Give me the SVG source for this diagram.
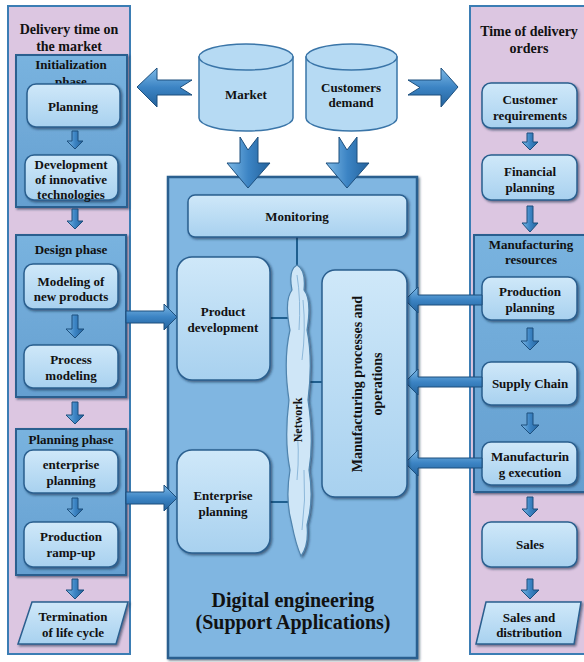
<svg xmlns="http://www.w3.org/2000/svg" width="584" height="662" viewBox="0 0 584 662">
<defs>
<filter id="sh" x="-10%" y="-10%" width="130%" height="130%"><feDropShadow dx="1.5" dy="1.5" stdDeviation="1.2" flood-color="#0a2540" flood-opacity="0.6"/></filter>
<linearGradient id="gBox" x1="0" y1="0" x2="0" y2="1"><stop offset="0" stop-color="#cfe8f9"/><stop offset="1" stop-color="#a8d1ef"/></linearGradient>
<linearGradient id="gPhase" x1="0" y1="0" x2="0" y2="1"><stop offset="0" stop-color="#79b3df"/><stop offset="1" stop-color="#659fd0"/></linearGradient>
<linearGradient id="gArrH" x1="0" y1="0" x2="0" y2="1"><stop offset="0" stop-color="#7db9e6"/><stop offset="0.5" stop-color="#3c84c4"/><stop offset="1" stop-color="#23629c"/></linearGradient>
<linearGradient id="gArrV" x1="0" y1="0" x2="1" y2="0"><stop offset="0" stop-color="#7db9e6"/><stop offset="0.5" stop-color="#3c84c4"/><stop offset="1" stop-color="#23629c"/></linearGradient>
<style>
.pink{fill:#dcc6e1;stroke:#3b7db4;stroke-width:2}
.phase{fill:url(#gPhase);stroke:#2a5f8f;stroke-width:2;filter:url(#sh)}
.main{fill:#80b6e1;stroke:#2a5f8f;stroke-width:2.5;filter:url(#sh)}
.box{fill:url(#gBox);stroke:#2a5f8f;stroke-width:1.5;filter:url(#sh)}
.cyl{fill:#b6daf3;stroke:#3a75a8;stroke-width:1.5}
.arrH{fill:url(#gArrH);stroke:#1d4f7d;stroke-width:1}
.arrV{fill:url(#gArrV);stroke:#1d4f7d;stroke-width:1}
.conn{stroke:#1f5f8f;stroke-width:2;fill:none}
.t{font-family:"Liberation Serif","Times New Roman",serif;font-weight:bold;font-size:13px;fill:#111;text-anchor:middle}
.h{font-size:14px}
.big{font-size:20px}
</style>
</defs>

<!-- Left column -->
<g id="left-panel">
<rect class="pink" x="8" y="6" width="122" height="648"/>
<text class="t h" x="69" y="34">Delivery time on</text>
<text class="t h" x="69" y="51">the market</text>
</g>
<g id="init-phase">
<rect class="phase" x="16" y="55" width="111" height="152"/>
<text class="t" x="71" y="69">Initialization</text>
<text class="t" x="71" y="86">phase</text>
</g>
<g id="planning">
<rect class="box" x="27" y="84" width="93" height="43" rx="9"/>
<text class="t" x="73" y="111">Planning</text>
</g>
<g id="development">
<rect class="box" x="25" y="155" width="93" height="45" rx="9"/>
<text class="t" x="71" y="169">Development</text>
<text class="t" x="71" y="184">of innovative</text>
<text class="t" x="71" y="199">technologies</text>
</g>
<g id="design-phase">
<rect class="phase" x="16" y="235" width="110" height="162"/>
<text class="t" x="71" y="254">Design phase</text>
</g>
<g id="modeling">
<rect class="box" x="24" y="264" width="94" height="45" rx="9"/>
<text class="t" x="71" y="286">Modeling of</text>
<text class="t" x="71" y="301">new products</text>
</g>
<g id="process-modeling">
<rect class="box" x="24" y="345" width="94" height="43" rx="9"/>
<text class="t" x="71" y="364">Process</text>
<text class="t" x="71" y="380">modeling</text>
</g>
<g id="planning-phase">
<rect class="phase" x="16" y="429" width="110" height="146"/>
<text class="t" x="71" y="444">Planning phase</text>
</g>
<g id="enterprise-planning-left">
<rect class="box" x="24" y="450" width="94" height="43" rx="9"/>
<text class="t" x="71" y="469">enterprise</text>
<text class="t" x="71" y="485">planning</text>
</g>
<g id="ramp-up">
<rect class="box" x="24" y="522" width="94" height="45" rx="9"/>
<text class="t" x="71" y="541">Production</text>
<text class="t" x="71" y="557">ramp-up</text>
</g>
<g id="termination">
<polygon class="box" points="32,602 128,602 116,644 18,644"/>
<text class="t" x="73" y="621">Termination</text>
<text class="t" x="73" y="637">of life cycle</text>
</g>

<!-- Right column -->
<g id="right-panel">
<rect class="pink" x="470" y="6" width="120" height="648"/>
<text class="t h" x="529" y="36">Time of delivery</text>
<text class="t h" x="529" y="53">orders</text>
</g>
<g id="customer-requirements">
<rect class="box" x="482" y="83" width="95" height="45" rx="9"/>
<text class="t" x="530" y="104">Customer</text>
<text class="t" x="530" y="120">requirements</text>
</g>
<g id="financial-planning">
<rect class="box" x="482" y="155" width="95" height="45" rx="9"/>
<text class="t" x="530" y="176">Financial</text>
<text class="t" x="530" y="192">planning</text>
</g>
<g id="manufacturing-resources">
<rect class="phase" x="474" y="235" width="116" height="257"/>
<text class="t" x="531" y="249">Manufacturing</text>
<text class="t" x="531" y="264">resources</text>
</g>
<g id="production-planning">
<rect class="box" x="482" y="277" width="95" height="43" rx="9"/>
<text class="t" x="530" y="296">Production</text>
<text class="t" x="530" y="312">planning</text>
</g>
<g id="supply-chain">
<rect class="box" x="482" y="362" width="95" height="43" rx="9"/>
<text class="t" x="530" y="388">Supply Chain</text>
</g>
<g id="manufacturing-execution">
<rect class="box" x="482" y="442" width="95" height="43" rx="9"/>
<text class="t" x="530" y="461">Manufacturin</text>
<text class="t" x="530" y="477">g execution</text>
</g>
<g id="sales">
<rect class="box" x="482" y="522" width="95" height="45" rx="9"/>
<text class="t" x="530" y="549">Sales</text>
</g>
<g id="sales-distribution">
<polygon class="box" points="486,602 581,602 574,644 476,644"/>
<text class="t" x="529" y="622">Sales and</text>
<text class="t" x="529" y="637">distribution</text>
</g>

<!-- Top cylinders -->
<g id="market">
<path class="cyl" d="M199,57 L199,118 A47,13 0 0 0 293,118 L293,57 Z"/>
<ellipse class="cyl" cx="246" cy="57" rx="47" ry="13"/>
<text class="t" x="246" y="99">Market</text>
</g>
<g id="customers-demand">
<path class="cyl" d="M306,57 L306,118 A45.5,13 0 0 0 397,118 L397,57 Z"/>
<ellipse class="cyl" cx="351.5" cy="57" rx="45.5" ry="13"/>
<text class="t" x="351" y="92">Customers</text>
<text class="t" x="351" y="107">demand</text>
</g>

<!-- Central -->
<g id="digital-engineering">
<rect class="main" x="168" y="177" width="249" height="481"/>
<text class="t big" x="293" y="607">Digital engineering</text>
<text class="t big" x="293" y="629">(Support Applications)</text>
</g>
<g id="connectors">
<line class="conn" x1="297" y1="237" x2="297" y2="268"/>
<line class="conn" x1="270" y1="318" x2="290" y2="318"/>
<line class="conn" x1="307" y1="382" x2="322" y2="382"/>
<line class="conn" x1="270" y1="502" x2="291" y2="502"/>

<!-- block arrows from cylinders -->
<path class="arrH" d="M137,87 L157,68 L157,80 L192,80 L180,87.5 L192,95 L157,95 L157,107 Z"/>
<path class="arrH" d="M458,87 L441,68 L441,80 L408,80 L420,87.5 L408,95 L441,95 L441,107 Z"/>
<path class="arrV" d="M240,137 L248,150 L258,137 L258,163 L270,163 L248,188 L227,163 L240,163 Z"/>
<path class="arrV" d="M339,137 L347,150 L357,137 L357,163 L369,163 L347,188 L326,163 L339,163 Z"/>

<!-- left phase to center arrows -->
<path class="arrH" d="M126,311 L164,311 L164,304 L177,317 L164,330 L164,323 L126,323 Z"/>
<path class="arrH" d="M126,492 L164,492 L164,485 L177,498 L164,511 L164,504 L126,504 Z"/>

<!-- right to manufacturing processes arrows -->
<path class="arrH" d="M482,295 L418,295 L418,287 L405,300 L418,313 L418,305 L482,305 Z"/>
<path class="arrH" d="M482,377 L418,377 L418,369 L405,382 L418,395 L418,387 L482,387 Z"/>
<path class="arrH" d="M482,458 L418,458 L418,450 L405,463 L418,476 L418,468 L482,468 Z"/>

<!-- small down arrows left -->
<path class="arrV" d="M72,131 L78,131 L78,141 L83,141 L75,149 L67,141 L72,141 Z"/>
<path class="arrV" d="M72,209 L78,209 L78,221 L83,221 L75,229 L67,221 L72,221 Z"/>
<path class="arrV" d="M72,315 L78,315 L78,329 L84,329 L75,338 L66,329 L72,329 Z"/>
<path class="arrV" d="M72,402 L78,402 L78,415 L84,415 L75,424 L66,415 L72,415 Z"/>
<path class="arrV" d="M72,498 L78,498 L78,509 L83,509 L75,517 L67,509 L72,509 Z"/>
<path class="arrV" d="M72,579 L78,579 L78,590 L84,590 L75,599 L66,590 L72,590 Z"/>
<!-- small down arrows right -->
<path class="arrV" d="M527,133 L533,133 L533,142 L538,142 L530,150 L522,142 L527,142 Z"/>
<path class="arrV" d="M527,206 L533,206 L533,223 L538,223 L530,232 L522,223 L527,223 Z"/>
<path class="arrV" d="M527,328 L533,328 L533,341 L539,341 L530,350 L521,341 L527,341 Z"/>
<path class="arrV" d="M527,413 L533,413 L533,425 L539,425 L530,434 L521,425 L527,425 Z"/>
<path class="arrV" d="M527,497 L533,497 L533,509 L538,509 L530,517 L522,509 L527,509 Z"/>
<path class="arrV" d="M527,579 L533,579 L533,590 L539,590 L530,599 L521,590 L527,590 Z"/>
</g>

<g id="monitoring">
<rect class="box" x="188" y="195" width="219" height="42" rx="7"/>
<text class="t" x="297" y="221">Monitoring</text>
</g>
<g id="product-development">
<rect class="box" x="177" y="257" width="93" height="123" rx="15"/>
<text class="t" x="223" y="316">Product</text>
<text class="t" x="223" y="332">development</text>
</g>
<g id="enterprise-planning">
<rect class="box" x="177" y="450" width="93" height="103" rx="15"/>
<text class="t" x="223" y="500">Enterprise</text>
<text class="t" x="223" y="516">planning</text>
</g>
<g id="network">
<path d="M297,265 Q306,270 304,290 Q312,300 307,330 Q313,360 308,400 Q314,440 309,470 Q314,500 307,525 Q309,545 301,556 Q296,545 292,525 Q285,500 290,470 Q284,440 289,400 Q283,360 290,330 Q284,300 292,290 Q288,270 297,265 Z" fill="#cfe6f7" stroke="#4f84ae" stroke-width="1.2" filter="url(#sh)"/>
<path d="M297,275 Q301,300 299,330 M303,300 Q306,330 302,360 M296,420 Q300,450 297,480 M304,470 Q306,500 302,530" stroke="#8db8da" stroke-width="1" fill="none"/>
<text class="t" font-size="12" transform="translate(302,420) rotate(-90)" style="font-size:12px">Network</text>
</g>
<g id="manufacturing-processes">
<rect class="box" x="322" y="270" width="85" height="227" rx="13"/>
<text class="t h" transform="translate(362,384) rotate(-90)">Manufacturing processes and</text>
<text class="t h" transform="translate(382,384) rotate(-90)">operations</text>
</g>
</svg>
